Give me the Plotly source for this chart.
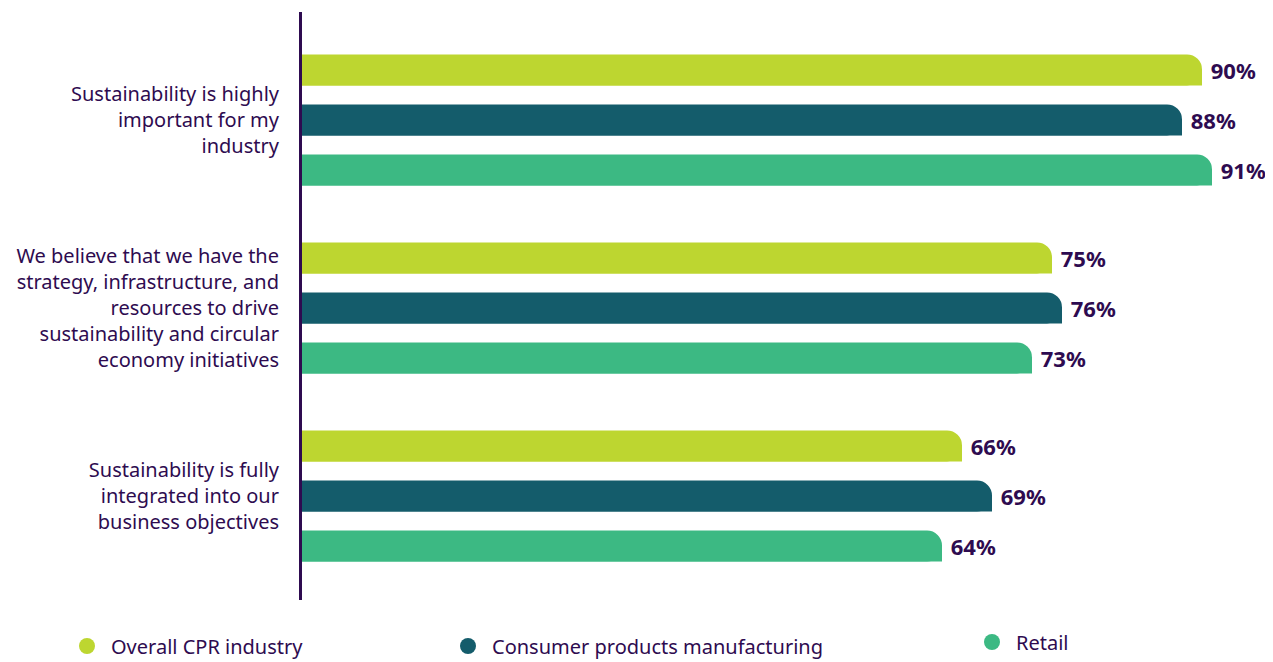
import plotly.graph_objects as go

categories = [
    "Sustainability is highly<br>important for my<br>industry",
    "We believe that we have the<br>strategy, infrastructure, and<br>resources to drive<br>sustainability and circular<br>economy initiatives",
    "Sustainability is fully<br>integrated into our<br>business objectives",
]
series_names = ["Overall CPR industry", "Consumer products manufacturing", "Retail"]
overall = [90, 75, 66]
consumer = [88, 76, 69]
retail = [91, 73, 64]
values = [overall, consumer, retail]
colors = ["#BDD630", "#145C6B", "#3CB983"]
text_color = "#2E0B50"
font_family = "Noto Sans, Open Sans, sans-serif"

bar_w = 0.165
step = 0.266
centers = [-step, 0, step]

fig = go.Figure()
for i, (name, vals, col) in enumerate(zip(series_names, values, colors)):
    # main bar with rounded end
    fig.add_trace(go.Bar(
        orientation="h", y=categories, x=vals, name=name,
        marker=dict(color=col, cornerradius=16, line=dict(width=0)),
        width=bar_w, offset=centers[i] - bar_w / 2,
        text=[f"\u00a0{v}%" for v in vals], textposition="outside",
        textfont=dict(color=text_color, size=22, family=font_family, weight="bold"),
        constraintext="none", cliponaxis=False, showlegend=False, hoverinfo="x+name",
    ))
    # lower half overlay: keep bottom-right corner square
    fig.add_trace(go.Bar(
        orientation="h", y=categories, x=vals, name=name,
        marker=dict(color=col, cornerradius=0, line=dict(width=0)),
        width=bar_w / 2, offset=centers[i],
        showlegend=False, hoverinfo="skip",
    ))

H = 662
legend_x = [83, 464, 988]
legend_y = [638, 638, 634]
legend_keys = ["legend", "legend2", "legend3"]
for i, (name, col) in enumerate(zip(series_names, colors)):
    fig.add_trace(go.Scatter(
        x=[None], y=[None], mode="markers", name=name,
        marker=dict(color=col, size=20, symbol="circle"),
        legend=legend_keys[i], showlegend=True, hoverinfo="skip",
    ))

layout_legends = {}
for i, key in enumerate(legend_keys):
    layout_legends[key] = dict(
        xref="container", yref="container",
        x=(legend_x[i] - 28) / 1265, y=1 - legend_y[i] / H,
        xanchor="left", yanchor="middle",
        font=dict(size=20, color=text_color, family=font_family),
        bgcolor="rgba(0,0,0,0)", itemsizing="trace", itemwidth=38,
    )

fig.update_layout(
    width=1265, height=H,
    barmode="overlay",
    plot_bgcolor="white", paper_bgcolor="white",
    margin=dict(l=294, r=0, t=4, b=H - 592, autoexpand=False),
    font=dict(family=font_family, color=text_color),
    xaxis=dict(range=[0, 97.1], visible=False, showgrid=False, zeroline=False, fixedrange=True),
    yaxis=dict(
        type="category", categoryorder="array", categoryarray=categories,
        range=[2.553, -0.574], showgrid=False, zeroline=False,
        showline=True, linecolor=text_color, linewidth=3,
        ticks="", ticklabelstandoff=16, automargin=False,
        tickfont=dict(size=20, color=text_color, family=font_family),
    ),
    **layout_legends,
)

fig.write_html("out.html")
